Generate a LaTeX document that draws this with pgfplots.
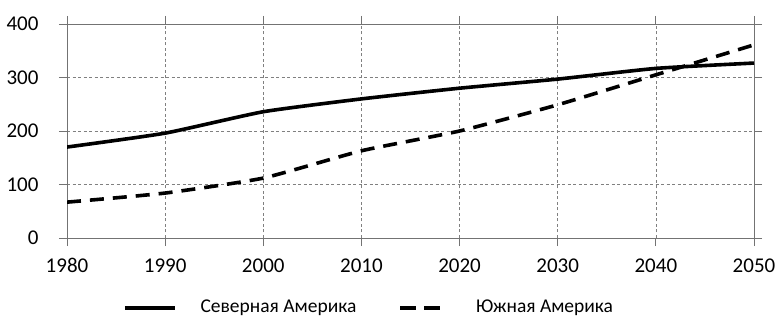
\documentclass[border=0pt]{standalone}
\usepackage{pgfplots}
\pgfplotsset{compat=1.18}
\usepackage{fontspec}
\setmainfont{Carlito}
\pgfplotsset{
  solidleg/.style={legend image code/.code={\draw[##1] (0bp,0bp) -- (50bp,0bp);}},
  dashleg/.style={legend image code/.code={\draw[##1, dash pattern=on 16bp off 8bp] (0bp,0bp) -- (40bp,0bp);}},
}
\begin{document}
\fontsize{19bp}{22bp}\selectfont
\begin{tikzpicture}
\useasboundingbox (0,0) rectangle (780bp,323bp);
\begin{axis}[
  at={(67bp,85bp)}, anchor=south west,
  scale only axis, width=687bp, height=214bp,
  xmin=1980, xmax=2050, ymin=0, ymax=400,
  xtick={1980,1990,...,2050}, ytick={0,100,...,400},
  /pgf/number format/assume math mode=true,
  xticklabel style={/pgf/number format/1000 sep={}, font=\fontsize{21bp}{24bp}\selectfont, yshift=-6bp},
  yticklabel style={font=\fontsize{21bp}{24bp}\selectfont, xshift=-14bp},
  tick align=outside, major tick length=8bp,
  tick style={color=black!55, line width=0.8bp},
  axis line style={color=black!55, line width=0.8bp},
  grid=major,
  major grid style={color=black!50, dash pattern=on 3bp off 2.5bp, line width=0.6bp},
  legend style={at={(302bp,-70bp)}, anchor=center, draw=none, fill=none,
    legend columns=2, font=\fontsize{19.5bp}{22bp}\selectfont,
    /tikz/every even column/.append style={column sep=40bp}},
  legend cell align=left,
]
\addplot[black, line width=3.6bp, line join=round, smooth, tension=0.3, solidleg] coordinates {
(1980,170) (1990,196) (2000,236) (2010,260) (2020,280) (2030,297) (2040,317) (2050,327)};
\addlegendentry{\hspace{22bp}Северная Америка}
\addplot[black, line width=3.6bp, dash pattern=on 14bp off 9bp, smooth, tension=0.3, dashleg] coordinates {
(1980,67) (1990,84) (2000,112) (2010,163) (2020,200) (2030,249) (2040,305) (2050,361)};
\addlegendentry{\hspace{32bp}Южная Америка}
\end{axis}
\end{tikzpicture}
\end{document}
